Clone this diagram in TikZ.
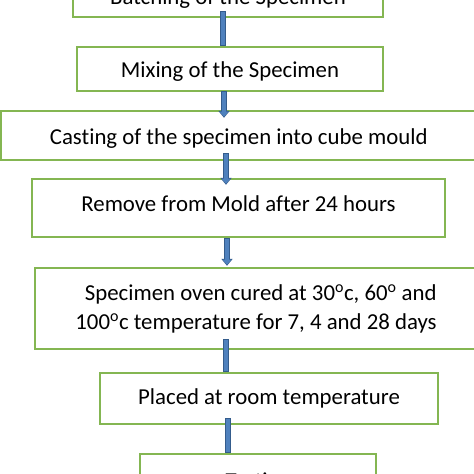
\documentclass[tikz,border=0pt]{standalone}
\usepackage{fontspec}
\setmainfont[Ligatures={NoCommon,NoContextual}]{Carlito}
\usetikzlibrary{arrows.meta}
\definecolor{boxgreen}{RGB}{132,182,82}
\definecolor{barfill}{RGB}{79,129,189}
\definecolor{barline}{RGB}{52,92,140}
\tikzset{
  flowbox/.style={draw=boxgreen, line width=2.4pt, fill=white, inner sep=0pt,
    font=\fontsize{22.8}{29}\selectfont},
  barout/.style={draw=barline, line width=5.4pt},
  barin/.style={draw=barfill, line width=3.8pt, shorten <=0.8pt}
}
\newcommand\flowarrow[2]{%
  \draw[barout,-{Triangle[width=11pt,length=7pt]}] #1 -- #2;
  \draw[barin,shorten >=1pt,-{Triangle[width=8.4pt,length=5.2pt]}] #1 -- #2;}
\newcommand\flowbar[2]{%
  \draw[barout] #1 -- #2;
  \draw[barin,shorten >=0.8pt] #1 -- #2;}
\begin{document}
\begin{tikzpicture}[x=1pt,y=-1pt]
\useasboundingbox (0,0) rectangle (474,474);
\clip (0,0) rectangle (474,474);
\fill[white] (0,0) rectangle (474,474);
\node[flowbox, anchor=base, minimum width=310pt, text height=31pt, text depth=13pt] (b1) at (228,4) {Batching of the Specimen};
\node[flowbox, anchor=base, minimum width=306pt, text height=30.5pt, text depth=13.5pt] (b2) at (230,77.5) {Mixing of the Specimen};
\node[flowbox, anchor=base, minimum width=475pt, text height=33pt, text depth=16pt] (b3) at (238.75,144) {Casting of the specimen into cube mould};
\node[flowbox, anchor=base, minimum width=413pt, text height=32pt, text depth=26pt] (b4) at (238.5,211) {Remove from Mold after 24 hours};
\node[flowbox, minimum width=442pt, minimum height=81pt, align=right] (b5) at (256,308.5) {Specimen oven cured at 30\textsuperscript{o}c, 60\textsuperscript{o} and\\100\textsuperscript{o}c temperature for 7, 4 and 28 days};
\node[flowbox, anchor=base, minimum width=338pt, text height=31pt, text depth=20pt] (b6) at (269,404) {Placed at room temperature};
\node[flowbox, anchor=base, minimum width=236pt, text height=34.5pt, text depth=20pt] (b7) at (258,488.5) {Testing};
\flowbar{([xshift=-5pt,yshift=7pt]b1.south)}{([xshift=-7pt]b2.north)}
\flowarrow{([xshift=-6pt,yshift=1pt]b2.south)}{([xshift=-14.75pt,yshift=-8pt]b3.north)}
\flowarrow{([xshift=-12.75pt,yshift=8pt]b3.south)}{([xshift=-12.5pt,yshift=-7pt]b4.north)}
\flowarrow{([xshift=-11.5pt]b4.south)}{([xshift=-29pt,yshift=1pt]b5.north)}
\flowbar{([xshift=-30pt,yshift=11pt]b5.south)}{([xshift=-43pt]b6.north)}
\flowbar{([xshift=-41pt,yshift=7pt]b6.south)}{([xshift=-30pt]b7.north)}
\end{tikzpicture}
\end{document}
